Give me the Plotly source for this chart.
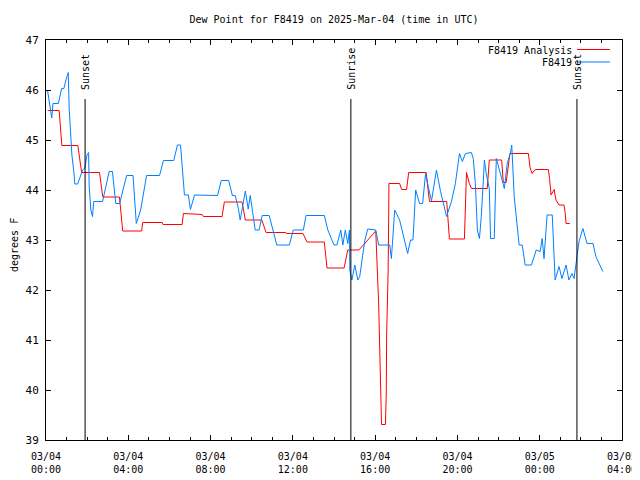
import plotly.graph_objects as go

# ---- data (hours after 2025-03-04 00:00 UTC, dew point in degrees F) ----
analysis_hours = [0.08, 0.64, 0.77, 1.55, 1.69, 1.73, 2.60, 2.76, 3.57, 3.73, 4.65, 4.70,
                  5.65, 5.69, 6.62, 6.68, 7.59, 7.65, 8.56, 8.67, 9.53, 9.69, 10.49, 10.70,
                  11.62, 11.72, 12.49, 12.69, 13.53, 13.66, 14.49, 14.67, 15.21, 16.03,
                  16.17, 16.22, 16.27, 16.31, 16.50, 16.54, 16.56, 16.63, 16.66, 16.67,
                  17.19, 17.29, 17.53, 17.63, 18.48, 18.64, 19.48, 19.61, 20.34, 20.44,
                  20.58, 20.68, 21.45, 21.55, 22.15, 22.23, 22.37, 22.55, 23.45, 23.53,
                  23.63, 23.78, 24.42, 24.48, 24.55, 24.70, 24.79, 24.94, 25.18, 25.23,
                  25.28, 25.46]
analysis_vals = [45.59, 45.59, 44.89, 44.89, 44.47, 44.35, 44.35, 43.86, 43.86, 43.18, 43.18, 43.35,
                 43.35, 43.31, 43.31, 43.53, 43.51, 43.47, 43.47, 43.76, 43.76, 43.40, 43.40, 43.15,
                 43.15, 43.13, 43.13, 42.96, 42.96, 42.44, 42.44, 42.80, 42.80, 43.18,
                 41.74, 40.77, 39.82, 39.31, 39.31, 39.92, 41.12, 42.34, 43.52, 44.13,
                 44.13, 44.01, 44.01, 44.35, 44.35, 43.77, 43.77, 43.02, 43.02, 44.35,
                 44.13, 44.03, 44.03, 44.60, 44.60, 44.15, 44.15, 44.73, 44.73, 44.45,
                 44.33, 44.41, 44.41, 44.23, 43.90, 44.01, 43.80, 43.70, 43.70, 43.57,
                 43.33, 43.33]

station_hours = [0.08, 0.15, 0.22, 0.28, 0.34, 0.60, 0.76, 0.87, 0.97, 1.08, 1.13, 1.21, 1.26,
                 1.36, 1.40, 1.54, 1.65, 1.78, 1.89, 1.99, 2.07, 2.10, 2.18, 2.26, 2.32, 2.75,
                 3.07, 3.23, 3.39, 3.58, 3.92, 4.23, 4.39, 4.60, 4.89, 5.52, 5.71, 6.21, 6.39,
                 6.54, 6.73, 6.92, 7.02, 7.22, 8.34, 8.52, 8.88, 9.06, 9.20, 9.35, 9.44, 9.69,
                 9.83, 9.93, 10.17, 10.36, 10.51, 10.85, 11.22, 11.83, 12.02, 12.51, 12.64,
                 13.53, 13.70, 14.00, 14.14, 14.33, 14.43, 14.55, 14.67, 14.75, 14.77, 14.87,
                 15.01, 15.16, 15.25, 15.50, 15.64, 16.03, 16.17, 16.71, 16.79, 16.95, 17.19,
                 17.43, 17.58, 17.72, 17.84, 17.97, 18.16, 18.31, 18.45, 18.55, 18.74, 18.98,
                 19.18, 19.47, 19.71, 19.90, 20.10, 20.24, 20.39, 20.68, 20.77, 20.87, 20.97,
                 21.07, 21.16, 21.26, 21.31, 21.40, 21.55, 21.61, 21.79, 21.89, 22.13, 22.28,
                 22.42, 22.57, 22.64, 22.76, 23.00, 23.15, 23.29, 23.60, 23.83, 24.02, 24.12,
                 24.21, 24.36, 24.61, 24.75, 24.94, 25.08, 25.28, 25.42, 25.57, 25.67, 25.81,
                 25.91, 26.10, 26.30, 26.59, 26.73, 27.07]
station_vals = [45.98, 45.77, 45.60, 45.44, 45.73, 45.73, 46.03, 46.03, 46.20, 46.35, 45.60, 45.00, 44.70,
                44.34, 44.12, 44.12, 44.27, 44.40, 44.44, 44.70, 44.75, 44.07, 43.60, 43.47, 43.77, 43.77,
                44.37, 44.37, 43.73, 43.73, 44.29, 44.29, 43.33, 43.60, 44.29, 44.29, 44.59, 44.59, 44.90,
                44.90, 43.90, 43.90, 43.61, 43.90, 43.89, 44.19, 44.19, 43.89, 43.89, 43.63, 43.40, 43.98,
                43.62, 43.89, 43.20, 43.20, 43.49, 43.49, 42.90, 42.90, 43.20, 43.20, 43.49,
                43.49, 43.20, 42.90, 42.90, 43.20, 42.90, 43.20, 42.93, 43.20, 42.40, 42.20,
                42.50, 42.20, 42.27, 43.00, 43.22, 43.20, 42.90, 42.90, 42.63, 43.60, 43.40,
                43.00, 42.73, 43.00, 43.00, 44.00, 43.73, 43.73, 44.33, 44.13, 43.78, 44.40,
                43.97, 43.47, 43.77, 44.13, 44.73, 44.57, 44.73, 44.75, 44.63, 44.13, 43.20,
                43.03, 43.47, 44.20, 44.60, 44.33, 44.03, 43.03, 43.03, 44.63, 44.27, 44.03,
                44.53, 44.73, 44.90, 43.87, 42.90, 42.90, 42.50, 42.50, 42.80, 42.77, 43.03,
                42.63, 43.50, 43.50, 42.20, 42.47, 42.23, 42.50, 42.20, 42.33, 42.23, 42.67,
                42.97, 43.23, 42.93, 42.93, 42.67, 42.37]

event_hours = [1.90, 14.82, 25.81]
event_labels = ["Sunset", "Sunrise", "Sunset"]

tick_hours = [0, 4, 8, 12, 16, 20, 24, 28]
tick_labels = ["03/04<br>00:00", "03/04<br>04:00", "03/04<br>08:00", "03/04<br>12:00",
               "03/04<br>16:00", "03/04<br>20:00", "03/05<br>00:00", "03/05<br>04:00"]

FONT = "DejaVu Sans Mono"
RED = "#ff0000"
BLUE = "#0080ff"

fig = go.Figure()
fig.add_trace(go.Scatter(x=analysis_hours, y=analysis_vals, mode="lines",
                         line=dict(color=RED, width=1), name="F8419 Analysis"))
fig.add_trace(go.Scatter(x=station_hours, y=station_vals, mode="lines",
                         line=dict(color=BLUE, width=1), name="F8419"))

# the page body has an 8px default margin: work in page pixels, convert to figure pixels
OFF = 8
W, H = 640 - OFF, 480 - OFF
left_pg, right_pg, top_pg, bottom_pg = 46, 622, 40, 440
L = left_pg - OFF
T = top_pg - OFF
R = W - (right_pg - OFF)
B = H - (bottom_pg - OFF)
pw, ph = right_pg - left_pg, bottom_pg - top_pg

def px(xp):
    return (xp - left_pg) / pw

def py(yp):
    return 1 - (yp - top_pg) / ph

shapes = []
annotations = []
for h, lab in zip(event_hours, event_labels):
    shapes.append(dict(type="line", xref="x", yref="y", x0=h, x1=h, y0=39, y1=45.82,
                       line=dict(color="black", width=1)))
    annotations.append(dict(text=lab, x=h, y=45.96, xref="x", yref="y", textangle=-90,
                            showarrow=False, xanchor="center", yanchor="bottom",
                            font=dict(family=FONT, size=10, color="black")))

# legend (gnuplot style: text right-aligned, sample to the right)
for i, (name, col) in enumerate([("F8419 Analysis", RED), ("F8419", BLUE)]):
    yy = 50 + i * 12.5
    annotations.append(dict(text=name, x=px(574), y=py(yy), xref="paper", yref="paper",
                            showarrow=False, xanchor="right", yanchor="middle",
                            font=dict(family=FONT, size=10, color="black")))
    shapes.append(dict(type="line", xref="paper", yref="paper", x0=px(577), x1=px(610),
                       y0=py(yy - 0.5), y1=py(yy - 0.5), line=dict(color=col, width=1)))

annotations.append(dict(text="degrees F", x=px(15), y=py(245), xref="paper", yref="paper",
                        textangle=-90, showarrow=False, xanchor="center", yanchor="middle",
                        font=dict(family=FONT, size=10, color="black")))

fig.update_layout(
    width=W, height=H,
    margin=dict(l=L, r=R, t=T, b=B, pad=0, autoexpand=False),
    paper_bgcolor="white", plot_bgcolor="white",
    showlegend=False,
    title=dict(text="Dew Point for F8419 on 2025-Mar-04 (time in UTC)", x=(334 - OFF) / W,
               xref="container", y=1 - (19 - OFF) / H, yref="container",
               xanchor="center", yanchor="middle",
               font=dict(family=FONT, size=10, color="black")),
    font=dict(family=FONT, size=10, color="black"),
    shapes=shapes, annotations=annotations,
)
fig.update_xaxes(range=[0, 28], tickmode="array", tickvals=tick_hours, ticktext=tick_labels,
                 automargin=False, ticklabeloverflow="allow",
                 showgrid=False, zeroline=False, showline=True, linecolor="black", linewidth=1,
                 mirror="ticks", ticks="inside", ticklen=5, tickcolor="black",
                 ticklabelstandoff=7,
                 minor=dict(dtick=1, tick0=0, ticks="inside", ticklen=3, tickcolor="black", showgrid=False),
                 tickfont=dict(family=FONT, size=10, color="black"))
fig.update_yaxes(range=[39, 47], dtick=1, tick0=39, automargin=False,
                 showgrid=False, zeroline=False, showline=True, linecolor="black", linewidth=1,
                 mirror="ticks", ticks="inside", ticklen=5, tickcolor="black",
                 ticklabelstandoff=4,
                 tickfont=dict(family=FONT, size=11, color="black"))

fig.write_html("out.html")
